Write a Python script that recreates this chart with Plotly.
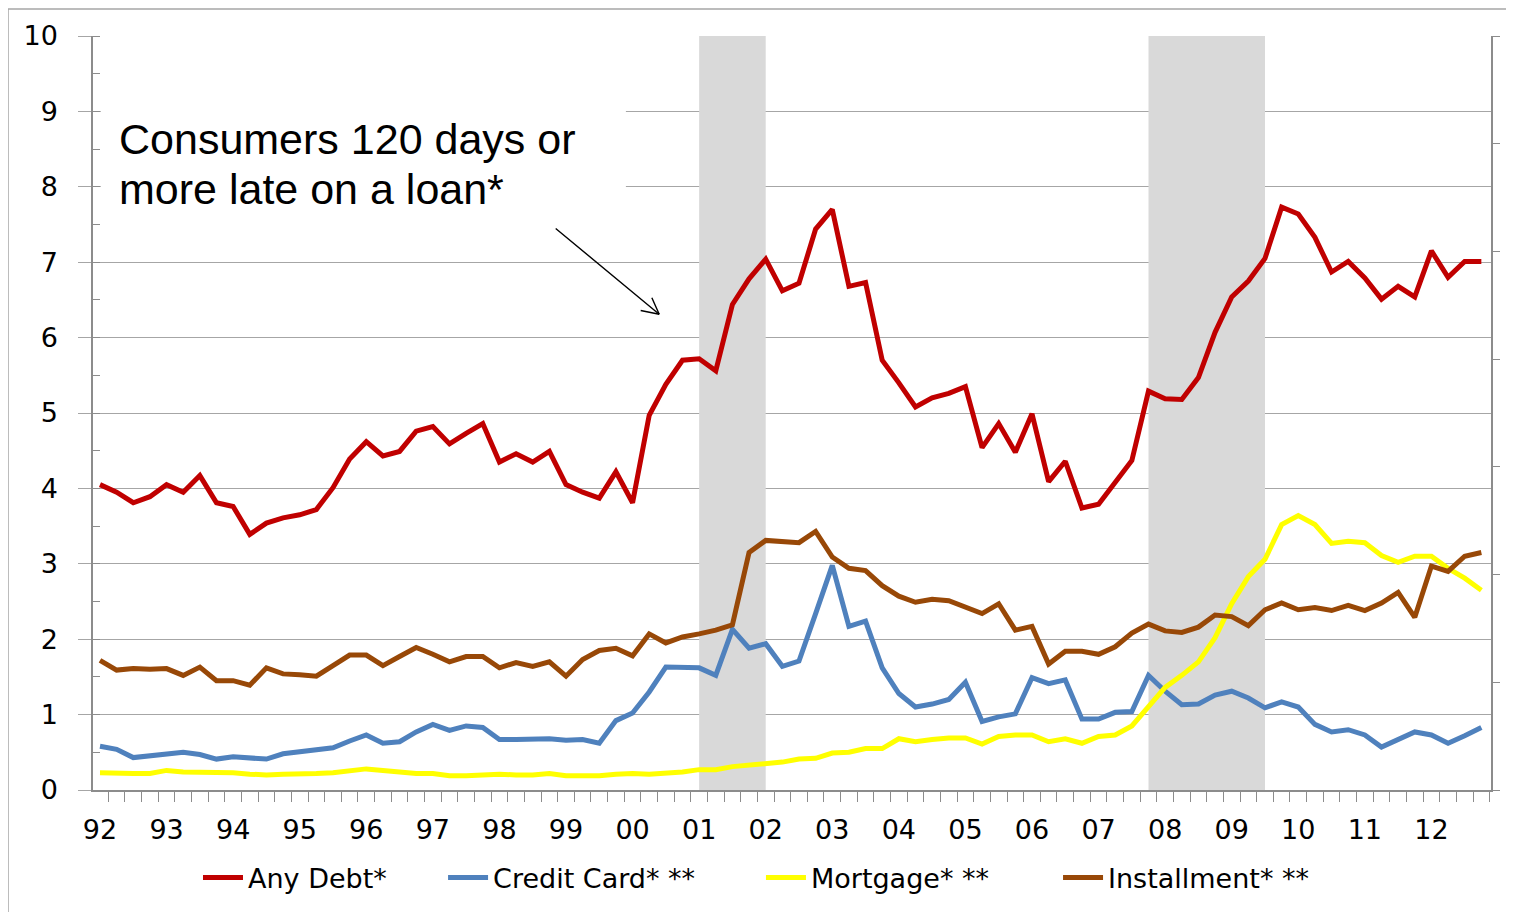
import plotly.graph_objects as go

# Quarterly data, 1992Q1 .. 2012Q4 (84 quarters)
year_labels = ["92", "93", "94", "95", "96", "97", "98", "99", "00", "01", "02",
               "03", "04", "05", "06", "07", "08", "09", "10", "11", "12"]

any_debt = [4.05, 3.95, 3.81, 3.89, 4.05, 3.95, 4.17, 3.81, 3.76, 3.39, 3.54, 3.61,
            3.65, 3.72, 4.01, 4.39, 4.62, 4.43, 4.49, 4.76, 4.82, 4.59, 4.73, 4.86,
            4.35, 4.46, 4.35, 4.49, 4.05, 3.95, 3.87, 4.22, 3.81, 4.97, 5.38, 5.70,
            5.72, 5.56, 6.44, 6.78, 7.04, 6.62, 6.72, 7.44, 7.70, 6.68, 6.73, 5.70,
            5.40, 5.08, 5.20, 5.26, 5.35, 4.54, 4.86, 4.48, 4.99, 4.09, 4.36, 3.74,
            3.79, 4.09, 4.37, 5.29, 5.19, 5.18, 5.47, 6.07, 6.54, 6.75, 7.05, 7.73,
            7.64, 7.33, 6.87, 7.01, 6.79, 6.51, 6.68, 6.54, 7.15, 6.80, 7.01, 7.01]

credit_card = [0.58, 0.54, 0.43, 0.45, 0.48, 0.50, 0.47, 0.41, 0.44, 0.42, 0.41, 0.48,
               0.51, 0.54, 0.56, 0.65, 0.73, 0.62, 0.64, 0.77, 0.87, 0.79, 0.85, 0.83,
               0.67, 0.67, 0.67, 0.68, 0.66, 0.67, 0.62, 0.92, 1.02, 1.30, 1.63, 1.63,
               1.62, 1.52, 2.13, 1.88, 1.94, 1.64, 1.71, 2.34, 2.98, 2.17, 2.24, 1.62,
               1.28, 1.10, 1.14, 1.20, 1.43, 0.91, 0.97, 1.01, 1.49, 1.41, 1.46, 0.94,
               0.94, 1.03, 1.04, 1.52, 1.31, 1.13, 1.14, 1.26, 1.31, 1.22, 1.09, 1.17,
               1.10, 0.87, 0.77, 0.80, 0.73, 0.57, 0.67, 0.77, 0.73, 0.62, 0.72, 0.83]

mortgage = [0.23, 0.22, 0.22, 0.22, 0.26, 0.24, 0.24, 0.23, 0.23, 0.21, 0.20, 0.21,
            0.21, 0.22, 0.23, 0.25, 0.28, 0.26, 0.24, 0.22, 0.22, 0.19, 0.19, 0.20,
            0.21, 0.20, 0.20, 0.22, 0.19, 0.19, 0.19, 0.21, 0.22, 0.21, 0.22, 0.24,
            0.27, 0.27, 0.31, 0.33, 0.36, 0.37, 0.41, 0.42, 0.49, 0.50, 0.55, 0.55,
            0.68, 0.64, 0.67, 0.69, 0.69, 0.61, 0.71, 0.73, 0.73, 0.64, 0.68, 0.62,
            0.71, 0.73, 0.85, 1.10, 1.36, 1.52, 1.70, 2.02, 2.47, 2.83, 3.06, 3.52,
            3.64, 3.52, 3.27, 3.30, 3.28, 3.11, 3.02, 3.10, 3.10, 2.94, 2.81, 2.65]

installment = [1.72, 1.59, 1.61, 1.60, 1.61, 1.52, 1.63, 1.45, 1.45, 1.39, 1.62, 1.54,
               1.53, 1.51, 1.65, 1.79, 1.79, 1.65, 1.77, 1.89, 1.80, 1.70, 1.77, 1.77,
               1.62, 1.69, 1.64, 1.70, 1.51, 1.73, 1.85, 1.88, 1.78, 2.07, 1.95, 2.03,
               2.07, 2.12, 2.19, 3.15, 3.31, 3.29, 3.28, 3.43, 3.09, 2.94, 2.91, 2.71,
               2.57, 2.49, 2.53, 2.51, 2.43, 2.34, 2.47, 2.12, 2.17, 1.67, 1.84, 1.84,
               1.80, 1.90, 2.08, 2.20, 2.11, 2.09, 2.16, 2.32, 2.30, 2.18, 2.39, 2.48,
               2.39, 2.42, 2.38, 2.45, 2.38, 2.48, 2.62, 2.29, 2.97, 2.90, 3.10, 3.15]

series_names = ["Any Debt*", "Credit Card* **", "Mortgage* **", "Installment* **"]
series_colors = ["#C00000", "#4F81BD", "#FFFF00", "#984807"]
legend_ids = ["legend", "legend2", "legend3", "legend4"]
legend_x = [0.0751, 0.2504, 0.4778, 0.6903]

# Recessions (quarter index start, end): 2001Q1-2002Q1, 2007Q4-2009Q3
recessions = [(36, 40), (63, 70)]

quarters = list(range(len(any_debt)))
tick_positions = [4 * k for k in range(len(year_labels))]

fig = go.Figure()
for name, vals, col, lid in zip(series_names, [any_debt, credit_card, mortgage, installment],
                                series_colors, legend_ids):
    fig.add_trace(go.Scatter(x=quarters, y=vals, mode="lines", name=name, legend=lid,
                             line=dict(color=col, width=5)))
# empty trace so the right-hand secondary axis is drawn
fig.add_trace(go.Scatter(x=[], y=[], yaxis="y2", showlegend=False, hoverinfo="skip"))

shapes = []
for a, b in recessions:
    shapes.append(dict(type="rect", xref="x", yref="y", x0=a, x1=b, y0=0, y1=10,
                       fillcolor="#D9D9D9", line=dict(width=0), layer="between"))
# white box behind the annotation text
shapes.append(dict(type="rect", xref="x", yref="y", x0=0.05, x1=31.6, y0=7.45, y1=9.25,
                   fillcolor="white", line=dict(width=0), layer="between"))
# outer chart border
shapes.append(dict(type="rect", xref="paper", yref="paper", x0=-0.0608, x1=1.2,
                   y0=-0.4, y1=1.0357, line=dict(color="#A6A6A6", width=1.5),
                   fillcolor="rgba(0,0,0,0)", layer="below"))

grid_col = "#A6A6A6"
axis_col = "#8C8C8C"
tick_font = dict(family="DejaVu Sans", size=27, color="#000000")

legend_common = dict(orientation="h", xanchor="left", y=-0.1167, yanchor="middle",
                     font=tick_font, itemwidth=40, bgcolor="rgba(0,0,0,0)")
legend_layout = {lid: dict(x=lx, **legend_common) for lid, lx in zip(legend_ids, legend_x)}

fig.update_layout(
    width=1514, height=912,
    margin=dict(l=85, r=31, t=22, b=130),
    paper_bgcolor="white", plot_bgcolor="white",
    shapes=shapes,
    showlegend=True,
    **legend_layout,
    xaxis=dict(range=[-0.42, 83.58], showgrid=False, zeroline=False,
               tickvals=tick_positions, ticktext=year_labels, ticks="",
               ticklabelstandoff=15, tickfont=tick_font,
               showline=True, linecolor=axis_col, linewidth=1.5,
               minor=dict(ticks="outside", ticklen=10, tick0=0.5, dtick=1,
                          tickcolor=axis_col, tickwidth=1.2, showgrid=False)),
    yaxis=dict(range=[0, 10], dtick=1, showgrid=True, gridcolor=grid_col, gridwidth=1.3,
               zeroline=False, showline=True, linecolor=axis_col, linewidth=1.5,
               ticks="outside", ticklen=13, tickcolor=grid_col, tickwidth=1.3,
               ticklabelstandoff=15, tickfont=tick_font,
               minor=dict(ticks="inside", ticklen=7, dtick=0.5, tick0=0,
                          tickcolor=axis_col, tickwidth=1.2, showgrid=False)),
    yaxis2=dict(range=[0, 7], dtick=1, overlaying="y", side="right", anchor="x",
                showgrid=False, zeroline=False, showticklabels=False,
                showline=True, linecolor=axis_col, linewidth=1.5,
                ticks="outside", ticklen=7, tickcolor=axis_col, tickwidth=1.2),
)

# Annotation text (two lines)
ann_font = dict(family="Liberation Sans, Arial", size=43, color="#000000")
for line_text, ly in [("Consumers 120 days or", 8.63), ("more late on a loan*", 7.97)]:
    fig.add_annotation(x=1.05, y=ly, xref="x", yref="y", xanchor="left", yanchor="middle",
                       text=line_text, showarrow=False, align="left", font=ann_font)

# Arrow (shaft + two barbs meeting at the tip)
tip_x, tip_y = 33.6, 6.31
for ax_off, ay_off in [(-105, -87), (-8, -18), (-20, -4)]:
    fig.add_annotation(x=tip_x, y=tip_y, xref="x", yref="y", text="", showarrow=True,
                       arrowhead=0, arrowwidth=1.4, arrowcolor="#000000",
                       ax=ax_off, ay=ay_off, standoff=0, startstandoff=0)

fig.write_html("out.html")
